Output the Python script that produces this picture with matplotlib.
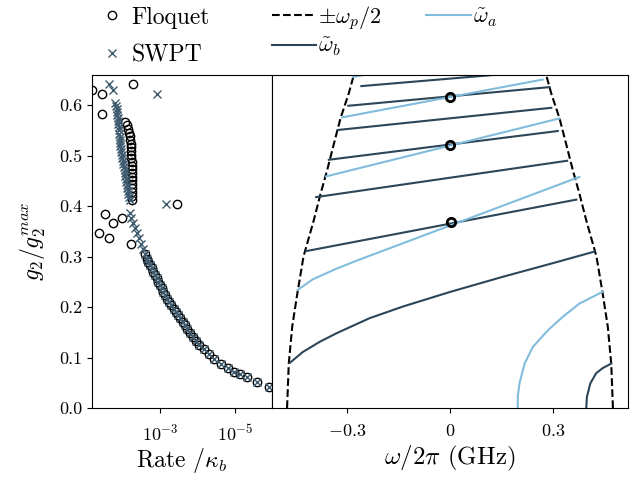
import numpy as np
import matplotlib
matplotlib.use("Agg")
import matplotlib.pyplot as plt
from matplotlib.lines import Line2D
from matplotlib.ticker import FixedLocator, NullLocator, LogFormatterMathtext

plt.rcParams.update({
    "font.family": "serif",
    "font.serif": ["cmr10"],
    "mathtext.fontset": "cm",
    "axes.formatter.use_mathtext": True,
    "axes.unicode_minus": True,
})

DARK = "#2c4658"
LIGHT = "#82bcdc"
XCOL = "#3d5a6e"

# ---------------- left panel data (rate, g2/g2max) ----------------
lower_g = [0.041, 0.052, 0.061, 0.067, 0.072, 0.079, 0.088, 0.098, 0.107, 0.116,
           0.125, 0.133, 0.141, 0.149, 0.157, 0.164, 0.171, 0.178, 0.184, 0.191,
           0.197, 0.204, 0.210, 0.217, 0.224, 0.230, 0.237, 0.244, 0.250, 0.257,
           0.263, 0.270, 0.277, 0.283, 0.290, 0.296, 0.306]
lower_lograte = [-5.91, -5.59, -5.32, -5.13, -4.97, -4.81, -4.63, -4.44, -4.31, -4.17,
                 -4.04, -3.96, -3.88, -3.80, -3.73, -3.68, -3.61, -3.55, -3.49, -3.43,
                 -3.37, -3.31, -3.25, -3.20, -3.15, -3.09, -3.05, -3.00, -2.96, -2.92,
                 -2.87, -2.83, -2.79, -2.73, -2.69, -2.65, -2.60]

swpt_top_g = [0.316, 0.326, 0.336, 0.346, 0.356, 0.366, 0.376, 0.387]
swpt_top_lograte = [-2.55, -2.50, -2.44, -2.39, -2.33, -2.28, -2.24, -2.20]

swpt_upper_g = [0.412, 0.418, 0.424, 0.430, 0.436, 0.442, 0.448, 0.454, 0.460, 0.466,
                0.472, 0.478, 0.484, 0.490, 0.496, 0.502, 0.508, 0.514, 0.520, 0.526,
                0.532, 0.538, 0.544, 0.550, 0.556, 0.562, 0.568, 0.574, 0.580, 0.586,
                0.592, 0.598, 0.604]
swpt_upper_lograte = [-2.20, -2.18, -2.16, -2.14, -2.13, -2.12, -2.11, -2.10, -2.08, -2.07,
                      -2.06, -2.04, -2.03, -2.01, -2.00, -1.98, -1.97, -1.96, -1.95, -1.94,
                      -1.93, -1.93, -1.92, -1.91, -1.90, -1.89, -1.89, -1.88, -1.87, -1.86,
                      -1.85, -1.83, -1.80]

floq_upper_g = [0.413, 0.421, 0.428, 0.436, 0.443, 0.451, 0.458, 0.466, 0.473, 0.480,
                0.488, 0.495, 0.502, 0.510, 0.517, 0.524, 0.532, 0.539, 0.546, 0.553,
                0.560, 0.567]
floq_upper_lograte = [-2.27, -2.27, -2.27, -2.26, -2.26, -2.26, -2.26, -2.25, -2.25, -2.25,
                      -2.245, -2.24, -2.235, -2.23, -2.225, -2.22, -2.21, -2.20, -2.18, -2.16,
                      -2.13, -2.07]

floq_scatter_g = [0.631, 0.622, 0.582, 0.642, 0.385, 0.366, 0.376, 0.346, 0.336, 0.326, 0.405]
floq_scatter_lograte = [-1.19, -1.47, -1.47, -2.29, -1.53, -1.75, -1.99, -1.37, -1.64, -2.22, -3.47]

swpt_scatter_g = [0.642, 0.631, 0.622, 0.405]
swpt_scatter_lograte = [-1.65, -1.75, -2.93, -3.16]

# ---------------- right panel data (omega/2pi GHz, g2/g2max) ----------------
bound_g = [0.0, 0.088, 0.161, 0.227, 0.300, 0.372, 0.425, 0.471, 0.524, 0.574, 0.623, 0.660]
bound_w = [0.476, 0.471, 0.461, 0.446, 0.428, 0.398, 0.378, 0.359, 0.339, 0.320, 0.296, 0.281]

wa_segments = [
    ([0.198, 0.198, 0.203, 0.218, 0.242, 0.286, 0.330, 0.378, 0.445],
     [0.000, 0.022, 0.049, 0.088, 0.121, 0.154, 0.181, 0.207, 0.230]),
    ([-0.445, -0.401, -0.332, -0.269, 0.378], [0.234, 0.255, 0.276, 0.293, 0.458]),
    ([-0.362, 0.320], [0.459, 0.574]),
    ([-0.315, 0.271], [0.576, 0.651]),
    ([-0.284, -0.150], [0.656, 0.673]),
]
wb_segments = [
    ([0.398, 0.400, 0.410, 0.427, 0.446, 0.471], [0.000, 0.022, 0.049, 0.069, 0.079, 0.088]),
    ([-0.467, -0.430, -0.381, -0.332, -0.235, -0.138, 0.000, 0.154, 0.300, 0.422],
     [0.090, 0.111, 0.131, 0.148, 0.178, 0.201, 0.230, 0.260, 0.287, 0.310]),
    ([-0.420, 0.369], [0.311, 0.413]),
    ([-0.391, 0.342], [0.418, 0.490]),
    ([-0.354, 0.315], [0.492, 0.549]),
    ([-0.328, 0.296], [0.551, 0.595]),
    ([-0.297, 0.291], [0.599, 0.636]),
    ([-0.259, 0.300], [0.638, 0.670]),
]
cross_w = [0.0, 0.0, 0.002]
cross_g = [0.616, 0.521, 0.369]

# ---------------- figure ----------------
fig = plt.figure(figsize=(6.42, 4.80), dpi=100)
W, H = 642, 480
ax1 = fig.add_axes([92 / W, (H - 408) / H, 180 / W, 333 / H])
ax2 = fig.add_axes([272 / W, (H - 408) / H, 356 / W, 333 / H], sharey=ax1)

mk_o = dict(ls='none', marker='o', mfc='none', mec='black', ms=6, mew=1.0)
mk_x = dict(ls='none', marker='x', color=XCOL, ms=5.5, mew=1.0)
ax1.plot(10 ** np.array(lower_lograte), lower_g, **mk_o)
ax1.plot(10 ** np.array(floq_upper_lograte), floq_upper_g, **mk_o)
ax1.plot(10 ** np.array(floq_scatter_lograte), floq_scatter_g, **mk_o)
ax1.plot(10 ** np.array(lower_lograte), lower_g, **mk_x)
ax1.plot(10 ** np.array(swpt_top_lograte), swpt_top_g, **mk_x)
ax1.plot(10 ** np.array(swpt_upper_lograte), swpt_upper_g, **mk_x)
ax1.plot(10 ** np.array(swpt_scatter_lograte), swpt_scatter_g, **mk_x)

ax1.set_xscale('log')
ax1.set_xlim(10 ** -1.19, 10 ** -5.99)
ax1.set_ylim(0, 0.66)
ax1.xaxis.set_major_locator(FixedLocator([1e-3, 1e-5]))
ax1.xaxis.set_major_formatter(LogFormatterMathtext())
ax1.xaxis.set_minor_locator(NullLocator())
ax1.set_yticks([0.0, 0.1, 0.2, 0.3, 0.4, 0.5, 0.6])
ax1.set_yticklabels(["0.0", "0.1", "0.2", "0.3", "0.4", "0.5", "0.6"])
ax1.tick_params(labelsize=13)
ax1.tick_params(axis='x', pad=7)
ax1.set_xlabel(r"Rate $/\kappa_b$", fontsize=17, labelpad=2)
ax1.set_ylabel(r"$g_2/g_2^{max}$", fontsize=17, labelpad=8)

bw = np.array(bound_w)
ax2.plot(bw, bound_g, '--', color='black', lw=1.5)
ax2.plot(-bw, bound_g, '--', color='black', lw=1.5)
for xs, ys in wb_segments:
    ax2.plot(xs, ys, '-', color=DARK, lw=1.5)
for xs, ys in wa_segments:
    ax2.plot(xs, ys, '-', color=LIGHT, lw=1.5)
ax2.plot(cross_w, cross_g, 'o', mfc='none', mec='black', ms=6, mew=2.0)
ax2.set_xlim(-0.52, 0.52)
ax2.set_xticks([-0.3, 0, 0.3])
ax2.set_xticklabels([r"$-0.3$", r"$0$", r"$0.3$"])
ax2.tick_params(axis='y', left=False, labelleft=False)
ax2.tick_params(labelsize=13)
ax2.tick_params(axis='x', pad=7)
ax2.set_xlabel(r"$\omega/2\pi$ (GHz)", fontsize=18, labelpad=4)
ax2.set_ylim(0, 0.66)

h1 = [Line2D([], [], ls='none', marker='o', mfc='none', mec='black', ms=6, mew=1.0),
      Line2D([], [], ls='none', marker='x', color=XCOL, ms=5.5, mew=1.0)]
fig.legend(h1, ["Floquet", "SWPT"], loc='upper left', bbox_to_anchor=(84 / W, 1 + 10 / H),
           frameon=False, fontsize=17, handlelength=1.0, handletextpad=0.3,
           labelspacing=0.65, borderpad=0.2)

h2 = [Line2D([], [], ls='--', color='black', lw=1.5),
      Line2D([], [], ls='-', color=DARK, lw=1.5),
      Line2D([], [], ls='-', color=LIGHT, lw=1.5)]
fig.legend(h2, [r"$\pm\omega_p/2$", r"$\tilde{\omega}_b$", r"$\tilde{\omega}_a$"], loc='upper left',
           bbox_to_anchor=(256 / W, 1 + 12 / H), frameon=False, fontsize=16, ncol=2,
           handlelength=2.0, handletextpad=0.1, labelspacing=0.2, columnspacing=2.0,
           borderpad=0.2)

fig.savefig("out.png", dpi=100)
